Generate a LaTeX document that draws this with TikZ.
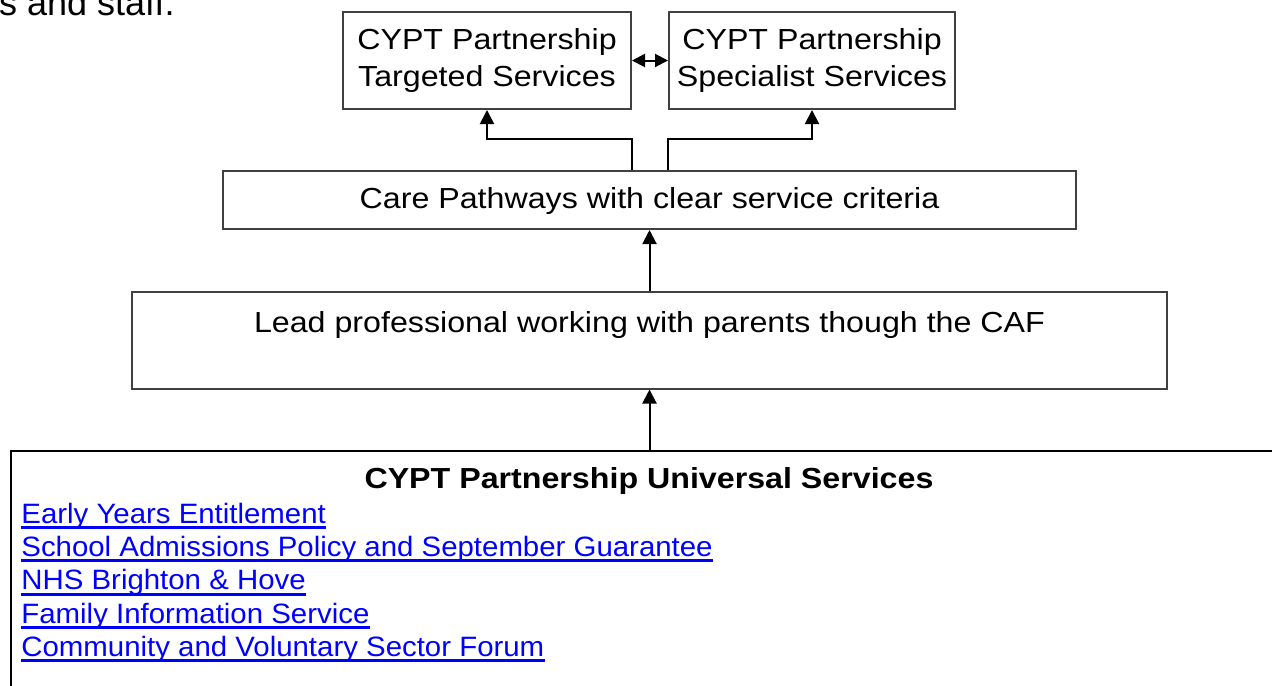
\documentclass[tikz,border=0pt]{standalone}
\usepackage{fontspec}
\setmainfont{Liberation Sans}
\newfontfamily\boxfont[FakeStretch=1.11]{Liberation Sans}
\newfontfamily\linkfont[FakeStretch=1.05]{Liberation Sans}
\usetikzlibrary{arrows.meta}
\definecolor{boxgray}{HTML}{404040}
\definecolor{linkblue}{HTML}{0000FF}
\tikzset{
  box/.style={draw=boxgray, line width=1pt, rectangle, inner sep=0pt, fill=white},
  ubox/.style={draw=black, line width=1pt, rectangle, inner sep=0pt},
  lbl/.style={inner sep=0pt, anchor=base, font=\boxfont\fontsize{14.5pt}{17pt}\selectfont},
  lnk/.style={inner sep=0pt, anchor=base west, text=linkblue, font=\linkfont\fontsize{14pt}{16pt}\selectfont},
  ul/.style={draw=linkblue, line width=1.5pt},
  arr/.style={draw=black, line width=1pt, -{Triangle[length=7pt,width=7pt]}},
  darr/.style={draw=black, line width=1pt, {Triangle[length=6.5pt,width=6.5pt]}-{Triangle[length=6.5pt,width=6.5pt]}}
}
\begin{document}
\begin{tikzpicture}[x=0.5pt,y=-0.5pt]
\useasboundingbox (0,0) rectangle (1272,685);
\clip (0,0) rectangle (1272,685);
\fill[white] (0,0) rectangle (1272,685);

% top-left fragment of preceding text
\node[inner sep=0pt, anchor=base east, font=\fontsize{18pt}{20pt}\selectfont] (frag) at (175,16) {s and staff.};

% boxes
\node[box, minimum width=144pt, minimum height=48.5pt] (targ) at (487,60.5) {};
\node[box, minimum width=143pt, minimum height=48.5pt] (spec) at (812,60.5) {};
\node[box, minimum width=426.5pt, minimum height=29pt] (care) at (649.5,200) {};
\node[box, minimum width=517.5pt, minimum height=48.25pt] (lead) at (649.5,340.25) {};
\node[ubox, minimum width=639.5pt, minimum height=124.5pt] (univ) at (650.5,575.5) {};

% box texts
\node[lbl] (targ1) at (487,49) {CYPT Partnership};
\node[lbl] (targ2) at (487,86) {Targeted Services};
\node[lbl] (spec1) at (812,49) {CYPT Partnership};
\node[lbl] (spec2) at (812,86) {Specialist Services};
\node[lbl] (caret) at (649.5,208) {Care Pathways with clear service criteria};
\node[lbl] (leadt) at (649.5,332) {Lead professional working with parents though the CAF};
\node[lbl, font=\boxfont\fontsize{14.5pt}{17pt}\selectfont\bfseries] (univt) at (649,488) {CYPT Partnership Universal Services};

% links
\node[lnk] (l1) at (21,523) {Early Years Entitlement};
\node[lnk] (l2) at (21,556.3) {School Admissions Policy and September Guarantee};
\node[lnk] (l3) at (21,589.6) {NHS Brighton \& Hove};
\node[lnk] (l4) at (21,623) {Family Information Service};
\node[lnk] (l5) at (21,656.3) {Community and Voluntary Sector Forum};
\foreach \l in {l1,l2,l3,l4,l5}{
  \draw[ul] ([yshift=-2.25pt]\l.base west) -- ([yshift=-2.25pt]\l.base east);
}

% connectors
\draw[darr] (targ.east) -- (spec.west);
\draw[arr] (care.north -| targ.east) -- ++(0,-31) -| (targ.south);
\draw[arr] (care.north -| spec.west) -- ++(0,-31) -| (spec.south);
\draw[arr] (lead.north) -- (care.south);
\draw[arr] (lead.south |- univ.north) -- (lead.south);
\end{tikzpicture}
\end{document}
